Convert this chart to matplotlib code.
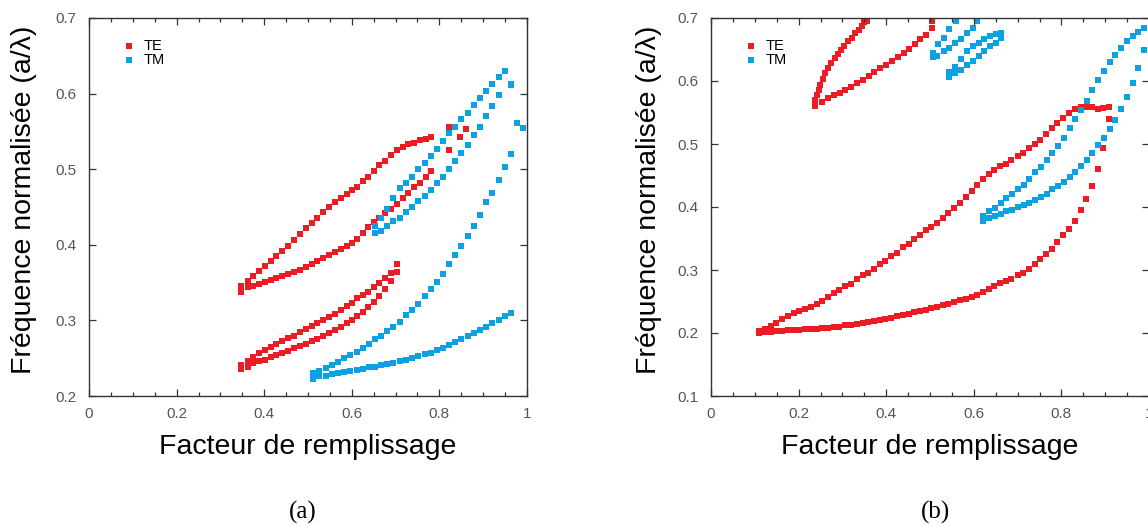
import numpy as np
import matplotlib
matplotlib.use("Agg")
import matplotlib.pyplot as plt
from matplotlib.ticker import MultipleLocator, FuncFormatter

plt.rcParams['font.family'] = ['Liberation Sans', 'DejaVu Sans']

RED = '#EC1C24'
BLUE = '#0AA2E2'

# ---------------- panel (a) ----------------
# TE, first gap
te_a_x1 = [0.348, 0.362, 0.375, 0.389, 0.402, 0.415, 0.428, 0.441, 0.455, 0.468,
           0.482, 0.495, 0.508, 0.521, 0.535, 0.548, 0.562, 0.575, 0.588, 0.600,
           0.613, 0.625, 0.638, 0.651, 0.663, 0.676, 0.689, 0.703]
te_a_up1 = [0.241, 0.246, 0.252, 0.257, 0.261, 0.265, 0.269, 0.273, 0.277, 0.280,
            0.285, 0.288, 0.293, 0.297, 0.300, 0.305, 0.309, 0.314, 0.319, 0.323,
            0.329, 0.333, 0.338, 0.344, 0.349, 0.356, 0.363, 0.374]
te_a_lo1 = [0.236, 0.239, 0.243, 0.246, 0.248, 0.252, 0.254, 0.257, 0.260, 0.263,
            0.266, 0.269, 0.273, 0.276, 0.279, 0.283, 0.287, 0.291, 0.296, 0.300,
            0.306, 0.311, 0.318, 0.325, 0.332, 0.342, 0.352, 0.364]

# TE, second gap
te_a_x2 = [0.348, 0.362, 0.375, 0.389, 0.402, 0.415, 0.428, 0.441, 0.455, 0.468,
           0.482, 0.495, 0.508, 0.521, 0.535, 0.548, 0.562, 0.575, 0.588, 0.600,
           0.613, 0.625, 0.638, 0.651, 0.663, 0.676, 0.689, 0.703, 0.716, 0.729,
           0.742, 0.756, 0.769, 0.781]
te_a_up2 = [0.345, 0.352, 0.359, 0.366, 0.372, 0.379, 0.385, 0.392, 0.398, 0.406,
            0.414, 0.422, 0.429, 0.436, 0.443, 0.450, 0.457, 0.462, 0.467, 0.472,
            0.477, 0.484, 0.490, 0.498, 0.506, 0.511, 0.519, 0.526, 0.530, 0.533,
            0.535, 0.538, 0.540, 0.543]
te_a_lo2 = [0.337, 0.344, 0.346, 0.348, 0.351, 0.353, 0.356, 0.359, 0.361, 0.364,
            0.367, 0.371, 0.374, 0.378, 0.382, 0.386, 0.390, 0.394, 0.398, 0.403,
            0.408, 0.415, 0.424, 0.430, 0.435, 0.442, 0.447, 0.454, 0.462, 0.469,
            0.476, 0.482, 0.490, 0.498]
te_a_x3 = [0.821, 0.821, 0.848, 0.861]
te_a_y3 = [0.556, 0.525, 0.542, 0.553]

# TM, first gap
tm_a_x1 = [0.512, 0.526, 0.540, 0.554, 0.568, 0.583, 0.597, 0.611, 0.625, 0.639,
           0.653, 0.667, 0.681, 0.695, 0.709, 0.724, 0.738, 0.752, 0.766, 0.780,
           0.794, 0.808, 0.822, 0.836, 0.850, 0.865, 0.879, 0.893, 0.907, 0.921,
           0.935, 0.949, 0.963]
tm_a_up1 = [0.230, 0.233, 0.237, 0.241, 0.245, 0.250, 0.254, 0.258, 0.264, 0.269,
            0.275, 0.280, 0.286, 0.291, 0.298, 0.307, 0.314, 0.322, 0.332, 0.341,
            0.351, 0.361, 0.374, 0.386, 0.398, 0.412, 0.425, 0.440, 0.456, 0.469,
            0.486, 0.503, 0.520]
tm_a_lo1 = [0.223, 0.226, 0.227, 0.229, 0.231, 0.232, 0.233, 0.235, 0.236, 0.238,
            0.239, 0.241, 0.242, 0.244, 0.246, 0.248, 0.250, 0.253, 0.255, 0.257,
            0.261, 0.264, 0.267, 0.271, 0.275, 0.279, 0.283, 0.287, 0.291, 0.296,
            0.301, 0.306, 0.310]

# TM, second gap
tm_a_x2u = [0.653, 0.667, 0.681, 0.695, 0.709, 0.724, 0.738, 0.752, 0.766, 0.780,
            0.794, 0.808, 0.822, 0.836, 0.850, 0.865, 0.879, 0.893, 0.907, 0.921,
            0.935, 0.949, 0.963]
tm_a_up2 = [0.425, 0.436, 0.448, 0.462, 0.475, 0.482, 0.490, 0.500, 0.508, 0.518,
            0.527, 0.537, 0.548, 0.556, 0.566, 0.575, 0.585, 0.594, 0.604, 0.613,
            0.622, 0.630, 0.613]
tm_a_x2l = [0.653, 0.667, 0.681, 0.695, 0.709, 0.724, 0.738, 0.752, 0.766, 0.780,
            0.794, 0.808, 0.822, 0.836, 0.850, 0.865, 0.879, 0.893, 0.907, 0.921,
            0.935, 0.963]
tm_a_lo2 = [0.415, 0.418, 0.425, 0.431, 0.436, 0.443, 0.450, 0.458, 0.465, 0.473,
            0.482, 0.490, 0.500, 0.511, 0.522, 0.532, 0.545, 0.556, 0.571, 0.584,
            0.598, 0.611]
tm_a_x3 = [0.977, 0.992]
tm_a_y3 = [0.561, 0.554]

# ---------------- panel (b) ----------------
# TE, big gap
te_b_x1 = [0.110, 0.123, 0.136, 0.149, 0.162, 0.176, 0.189, 0.202, 0.215, 0.228,
           0.241, 0.254, 0.267, 0.280, 0.293, 0.307, 0.320, 0.333, 0.346, 0.359,
           0.372, 0.385, 0.398, 0.411, 0.424, 0.438, 0.451, 0.464, 0.477, 0.490,
           0.503, 0.516, 0.529, 0.542, 0.555, 0.569, 0.582, 0.595, 0.608, 0.621,
           0.634, 0.647, 0.660, 0.673, 0.686, 0.700, 0.713, 0.726, 0.739, 0.752,
           0.765, 0.778, 0.791, 0.804, 0.817, 0.831, 0.844, 0.857, 0.870, 0.883,
           0.896, 0.909]
te_b_up1 = [0.203, 0.207, 0.211, 0.216, 0.222, 0.227, 0.231, 0.235, 0.238, 0.242,
            0.246, 0.251, 0.257, 0.263, 0.268, 0.274, 0.278, 0.285, 0.292, 0.296,
            0.302, 0.309, 0.315, 0.322, 0.327, 0.336, 0.342, 0.349, 0.356, 0.363,
            0.369, 0.375, 0.382, 0.390, 0.398, 0.407, 0.416, 0.426, 0.435, 0.444,
            0.452, 0.459, 0.465, 0.469, 0.474, 0.481, 0.486, 0.493, 0.500, 0.507,
            0.516, 0.525, 0.533, 0.541, 0.550, 0.555, 0.558, 0.559, 0.558, 0.555,
            0.557, 0.558]
te_b_lo1 = [0.200, 0.201, 0.202, 0.203, 0.203, 0.204, 0.204, 0.205, 0.206, 0.206,
            0.207, 0.208, 0.208, 0.209, 0.210, 0.212, 0.213, 0.215, 0.216, 0.218,
            0.219, 0.221, 0.223, 0.224, 0.227, 0.229, 0.230, 0.233, 0.235, 0.237,
            0.239, 0.242, 0.244, 0.246, 0.249, 0.252, 0.254, 0.257, 0.261, 0.265,
            0.270, 0.274, 0.279, 0.283, 0.286, 0.292, 0.296, 0.302, 0.309, 0.317,
            0.325, 0.334, 0.344, 0.355, 0.365, 0.378, 0.395, 0.412, 0.434, 0.460,
            0.494, 0.539]

# TE, upper gap
te_b_x2u = [0.238, 0.242, 0.246, 0.249, 0.256, 0.261, 0.267, 0.275, 0.282, 0.289,
            0.297, 0.304, 0.313, 0.322, 0.329, 0.337, 0.344, 0.350, 0.356]
te_b_up2 = [0.570, 0.578, 0.586, 0.594, 0.603, 0.612, 0.620, 0.628, 0.636, 0.643,
            0.650, 0.656, 0.663, 0.669, 0.676, 0.681, 0.688, 0.693, 0.696]
te_b_x2l = [0.238, 0.253, 0.267, 0.280, 0.294, 0.306, 0.319, 0.333, 0.346, 0.360,
            0.373, 0.386, 0.400, 0.413, 0.426, 0.440, 0.452, 0.466, 0.478, 0.491,
            0.504, 0.504]
te_b_lo2 = [0.561, 0.567, 0.573, 0.577, 0.581, 0.586, 0.591, 0.597, 0.602, 0.608,
            0.614, 0.620, 0.626, 0.631, 0.638, 0.644, 0.651, 0.659, 0.666, 0.673,
            0.684, 0.695]

# TM, middle gap
tm_b_x1 = [0.622, 0.635, 0.648, 0.661, 0.674, 0.688, 0.701, 0.714, 0.727, 0.740,
           0.753, 0.766, 0.779, 0.792, 0.805, 0.819, 0.832, 0.845, 0.858, 0.871,
           0.884, 0.897, 0.910, 0.923, 0.936, 0.950, 0.963, 0.976, 0.989]
tm_b_up1 = [0.385, 0.393, 0.398, 0.406, 0.414, 0.421, 0.428, 0.435, 0.444, 0.455,
            0.463, 0.475, 0.486, 0.497, 0.510, 0.525, 0.539, 0.554, 0.569, 0.585,
            0.601, 0.616, 0.630, 0.642, 0.653, 0.663, 0.671, 0.678, 0.684]
tm_b_lo1 = [0.377, 0.382, 0.386, 0.389, 0.393, 0.396, 0.400, 0.403, 0.407, 0.411,
            0.416, 0.421, 0.428, 0.434, 0.440, 0.448, 0.456, 0.465, 0.475, 0.485,
            0.498, 0.509, 0.524, 0.538, 0.556, 0.575, 0.597, 0.621, 0.649]

# TM, small gaps at the top
tm_b_x2u = [0.506, 0.519, 0.531, 0.544, 0.559]
tm_b_up2 = [0.645, 0.659, 0.669, 0.683, 0.695]
tm_b_x2l = [0.506, 0.517, 0.531, 0.544, 0.557, 0.570, 0.584, 0.598, 0.608]
tm_b_lo2 = [0.638, 0.640, 0.647, 0.653, 0.660, 0.667, 0.676, 0.684, 0.695]
tm_b_x3 = [0.544, 0.557, 0.570, 0.584, 0.598, 0.611, 0.624, 0.637, 0.651, 0.662]
tm_b_up3 = [0.615, 0.623, 0.635, 0.647, 0.655, 0.661, 0.667, 0.671, 0.674, 0.676]
tm_b_lo3 = [0.606, 0.612, 0.618, 0.626, 0.632, 0.639, 0.647, 0.655, 0.661, 0.668]

te_a = [(te_a_x1, te_a_up1), (te_a_x1, te_a_lo1), (te_a_x2, te_a_up2),
        (te_a_x2, te_a_lo2), (te_a_x3, te_a_y3)]
tm_a = [(tm_a_x1, tm_a_up1), (tm_a_x1, tm_a_lo1), (tm_a_x2u, tm_a_up2),
        (tm_a_x2l, tm_a_lo2), (tm_a_x3, tm_a_y3)]
te_b = [(te_b_x1, te_b_up1), (te_b_x1, te_b_lo1), (te_b_x2u, te_b_up2),
        (te_b_x2l, te_b_lo2)]
tm_b = [(tm_b_x1, tm_b_up1), (tm_b_x1, tm_b_lo1), (tm_b_x2u, tm_b_up2),
        (tm_b_x2l, tm_b_lo2), (tm_b_x3, tm_b_up3), (tm_b_x3, tm_b_lo3)]

fig = plt.figure(figsize=(11.48, 5.26), dpi=100)
ax1 = fig.add_axes([89 / 1148, 130 / 526, 438 / 1148, 378 / 526])
ax2 = fig.add_axes([711 / 1148, 130 / 526, 438 / 1148, 378 / 526])

MS = 24


def draw(ax, te, tm, ylo, ylab_x):
    for x, y in te:
        h_te = ax.scatter(x, y, s=MS, marker='s', color=RED, linewidths=0)
    for x, y in tm:
        h_tm = ax.scatter(x, y, s=MS, marker='s', color=BLUE, linewidths=0)
    ax.set_xlim(0, 1)
    ax.set_ylim(ylo, 0.7)
    ax.xaxis.set_major_locator(MultipleLocator(0.2))
    ax.xaxis.set_minor_locator(MultipleLocator(0.05))
    ax.yaxis.set_major_locator(MultipleLocator(0.1))
    fmt = FuncFormatter(lambda v, p: '%g' % round(v, 2))
    ax.xaxis.set_major_formatter(fmt)
    ax.yaxis.set_major_formatter(fmt)
    ax.tick_params(which='both', direction='in', top=True, right=True,
                   color='#333333', width=0.9, labelsize=11, labelcolor='#555555')
    ax.tick_params(which='major', length=5)
    ax.tick_params(which='minor', length=3)
    ax.tick_params(axis='x', pad=8)
    ax.tick_params(axis='y', pad=9)
    for sp in ax.spines.values():
        sp.set_color('#333333')
        sp.set_linewidth(1.0)
    ax.set_xlabel('Facteur de remplissage', fontsize=20.5)
    ax.set_ylabel('Fréquence normalisée (a/λ)', fontsize=20.5)
    ax.xaxis.set_label_coords(0.5, -0.1)
    ax.yaxis.set_label_coords(ylab_x, 0.52)
    ax.legend([h_te, h_tm], ['TE', 'TM'], loc='upper left',
              bbox_to_anchor=(0.077, 0.945), frameon=False, fontsize=10.5,
              handlelength=0.9, handletextpad=0.5, labelspacing=0.0,
              borderaxespad=0, borderpad=0, scatterpoints=1)


draw(ax1, te_a, tm_a, 0.2, -0.118)
draw(ax2, te_b, tm_b, 0.1, -0.112)

fig.text(303 / 1148, 1 - 512 / 526, '(a)', ha='center', va='center',
         family='Liberation Serif', fontsize=18)
fig.text(935 / 1148, 1 - 512 / 526, '(b)', ha='center', va='center',
         family='Liberation Serif', fontsize=18)

fig.savefig('out.png', dpi=100)
